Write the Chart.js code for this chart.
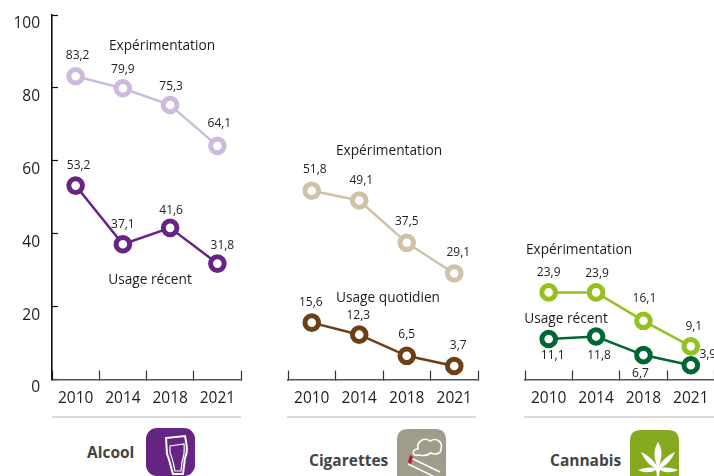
<!DOCTYPE html>
<html lang="fr">
<head>
<meta charset="utf-8">
<title>Usages</title>
<script src="https://cdn.jsdelivr.net/npm/chart.js@4"></script>
<style>
html,body{margin:0;padding:0;background:#fff;width:714px;height:476px;overflow:hidden;font-family:"Open Sans",sans-serif}
canvas{position:absolute;left:0;top:0}
.rule{position:absolute;top:416px;height:2px;background:#dadada}
.name{position:absolute;font-weight:700;font-size:15.5px;color:#444;transform:translateY(-50%);line-height:1;white-space:nowrap}
svg{position:absolute}
</style>
</head>
<body>
<div class="rule" style="left:52px;width:189px"></div>
<div class="rule" style="left:287px;width:189px"></div>
<div class="rule" style="left:524px;width:190px"></div>
<div class="name" style="left:87px;top:453px">Alcool</div>
<div class="name" style="left:309px;top:461px">Cigarettes</div>
<div class="name" style="left:550px;top:461px">Cannabis</div>

<svg style="left:146px;top:428px" width="49" height="48" viewBox="0 0 49 48">
  <rect width="49" height="48" rx="11" fill="#662483"/>
  <path d="M20 10 L39 8 C41 18 42 24 39 30 L37 46 L27 46 C24 36 23 30 21 26 Z" fill="none" stroke="#fff" stroke-width="2"/>
  <path d="M24 18 L38 16 C39 24 38 28 36 34 L35 43 L29 43 C27 34 26 28 24 25 Z" fill="none" stroke="#fff" stroke-width="1.2"/>
</svg>
<svg style="left:397px;top:429px" width="49" height="47" viewBox="0 0 49 47">
  <path d="M11 0 H38 Q49 0 49 11 V37 L0 37 V11 Q0 0 11 0 Z" fill="#9f9c8b"/>
  <path d="M0 30 H49 V47 H0 Z" fill="#9f9c8b"/>
  <path d="M22 26 C14 28 15 20 21 20 C19 12 28 8 33 12 C40 8 46 13 44 20 C44 25 38 26 34 24 C30 27 26 27 22 26 Z" fill="none" stroke="#fff" stroke-width="1.6"/>
  <path d="M14 29 L43 43 M11 35 L40 49" stroke="#fff" stroke-width="1.5"/>
  <path d="M13 26 L11 33 L14 35 L16 28 Z" fill="#c8102e"/>
</svg>
<svg style="left:630px;top:430px" width="49" height="46" viewBox="0 0 49 46">
  <path d="M11 0 H38 Q49 0 49 11 V46 H0 V11 Q0 0 11 0 Z" fill="#85aa1f"/>
  <path d="M28 12 C33 20 32 28 29 36 C33 29 40 24 45 22 C42 29 37 35 31 38 C36 37 43 38 48 40 C42 43 35 43 30 40 L29 46 L27 46 L26 40 C21 43 14 43 8 40 C13 38 20 37 25 38 C19 35 14 29 11 22 C16 24 23 29 27 36 C24 28 23 20 28 12 Z" fill="#fff"/>
</svg>

<canvas id="c1" width="730" height="476"></canvas>
<canvas id="c2" width="730" height="476"></canvas>
<canvas id="c3" width="730" height="476"></canvas>

<script>
const years = ["2010", "2014", "2018", "2021"];
const yTicks = [0, 20, 40, 60, 80, 100];

const alcoolExp = [83.2, 79.9, 75.3, 64.1];
const alcoolRecent = [53.2, 37.1, 41.6, 31.8];
const cigExp = [51.8, 49.1, 37.5, 29.1];
const cigDaily = [15.6, 12.3, 6.5, 3.7];
const canExp = [23.9, 23.9, 16.1, 9.1];
const canRecent = [11.1, 11.8, 6.7, 3.9];

const seriesExp = "Expérimentation";
const seriesRecent = "Usage récent";
const seriesDaily = "Usage quotidien";

const fontFamily = '"Open Sans", sans-serif';
const fmt = v => v.toFixed(1).replace(".", ",");

/* draws value labels next to points, and series captions */
const labelPlugin = {
  id: "labels",
  afterDatasetsDraw(chart) {
    const ctx = chart.ctx;
    ctx.save();
    ctx.fillStyle = "#1d1d1b";
    ctx.textAlign = "center";
    ctx.textBaseline = "middle";
    ctx.font = "12px " + fontFamily;
    chart.data.datasets.forEach((ds, i) => {
      chart.getDatasetMeta(i).data.forEach((pt, j) => {
        const o = ds.labelShift[j];
        ctx.fillText(fmt(ds.data[j]), pt.x + o[0], pt.y + o[1]);
      });
    });
    ctx.font = "13.7px " + fontFamily;
    chart.options.plugins.labels.captions.forEach(c => ctx.fillText(c.text, c.x, c.y));
    ctx.restore();
  }
};

function panel(id, left, right, showY, sets, captions) {
  new Chart(document.getElementById(id), {
    type: "line",
    data: {
      labels: years,
      datasets: sets.map(s => ({
        label: s.label,
        data: s.data,
        labelShift: s.shift,
        borderColor: s.color,
        pointBorderColor: s.color,
        pointBackgroundColor: "#fff",
        pointRadius: 6.8,
        pointBorderWidth: 5,
        borderWidth: 2.5,
        tension: 0,
        clip: false
      }))
    },
    options: {
      responsive: false,
      animation: false,
      events: [],
      layout: { padding: { left: showY ? 0 : left, right: 730 - right, top: 15, bottom: 0 } },
      plugins: { legend: { display: false }, tooltip: { enabled: false }, labels: { captions } },
      scales: {
        x: {
          type: "category",
          offset: true,
          afterFit: s => { s.height = 96.5; s.paddingLeft = 0; s.paddingRight = 0; },
          grid: { offset: true, drawOnChartArea: false, drawTicks: true, tickLength: -9, tickColor: "#333", tickWidth: 1.2 },
          border: { color: "#555", width: 1.6 },
          ticks: { color: "#1d1d1b", font: { family: fontFamily, size: 15.5 }, padding: 19, maxRotation: 0, autoSkip: false }
        },
        y: {
          display: showY,
          min: 0,
          max: 100,
          afterBuildTicks: s => { s.ticks = yTicks.map(v => ({ value: v })); },
          afterFit: s => { s.width = showY ? left : 0; s.paddingTop = 0; s.paddingBottom = 0; },
          grid: { drawOnChartArea: false, tickLength: -6, tickColor: "#111", tickWidth: 1.2 },
          border: { color: "#111", width: 1.6 },
          ticks: { color: "#1d1d1b", font: { family: fontFamily, size: 15.5 }, padding: 18, labelOffset: 8.5 }
        }
      }
    },
    plugins: [labelPlugin]
  });
}

panel("c1", 52, 241, true, [
  { label: seriesExp, data: alcoolExp, color: "#cdbbdd", shift: [[2,-21],[0,-19],[1,-18],[2,-22]] },
  { label: seriesRecent, data: alcoolRecent, color: "#662483", shift: [[3,-20],[0,-20],[1,-17],[5,-18]] }
], [
  { text: seriesExp, x: 162, y: 46 },
  { text: seriesRecent, x: 150, y: 280 }
]);

panel("c2", 288, 478, false, [
  { label: seriesExp, data: cigExp, color: "#cfc2a6", shift: [[3,-21],[2,-20],[0,-21],[4,-21]] },
  { label: seriesDaily, data: cigDaily, color: "#6b3f17", shift: [[-1,-20],[-1,-19],[0,-21],[4,-20]] }
], [
  { text: seriesExp, x: 389, y: 151 },
  { text: seriesDaily, x: 388, y: 298 }
]);

panel("c3", 525, 714.5, false, [
  { label: seriesExp, data: canExp, color: "#95c11f", shift: [[0,-20],[1,-19],[1,-22],[3,-20]] },
  { label: seriesRecent, data: canRecent, color: "#006633", shift: [[4,17],[3,19],[-3,18],[17,-11]] }
], [
  { text: seriesExp, x: 579, y: 250 },
  { text: seriesRecent, x: 566, y: 319 }
]);
</script>
</body>
</html>
